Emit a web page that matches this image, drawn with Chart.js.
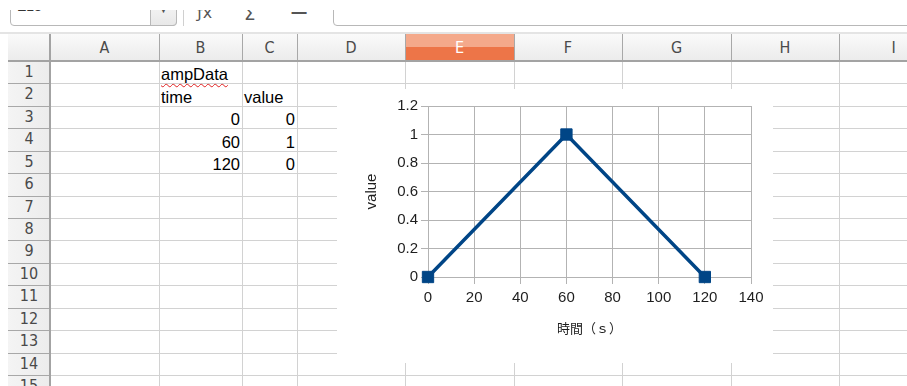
<!DOCTYPE html>
<html>
<head>
<meta charset="utf-8">
<script src="https://cdn.jsdelivr.net/npm/chart.js@4"></script>
<style>
  body { margin: 0; background: #fff; }
  #sheet { position: relative; width: 907px; height: 386px; overflow: hidden; background: #fff;
           font-family: "Liberation Sans", Arial, sans-serif; }
  #sheet div { position: absolute; box-sizing: border-box; }
  .hdr { font-family: "Liberation Sans Narrow", "DejaVu Sans Condensed", sans-serif; font-size: 16px;
         color: #4a4a4a; text-align: center; }
  .cell { font-size: 16.5px; color: #000; height: 20px; line-height: 20px; white-space: nowrap; }
  #chartBox { background: #fff; }
</style>
</head>
<body>
<div id="sheet"></div>
<script>
// data
const sheetTitle = 'ampData';
const colTitles = ['time', 'value'];
const timeValues = [0, 60, 120];
const ampValues = [0, 1, 0];
const xTickLabels = ['0', '20', '40', '60', '80', '100', '120', '140'];
const yTickLabels = ['0', '0.2', '0.4', '0.6', '0.8', '1', '1.2'];
const xTitle = '時間（ｓ）';
const yTitle = 'value';
const colNames = ['A', 'B', 'C', 'D', 'E', 'F', 'G', 'H', 'I'];

// sheet layout
const colEdges = [50, 159, 242, 297, 405, 514, 622, 731, 839, 948];
const rowH = 22.43;
const rowTop = i => 61 + i * rowH;
const sheet = document.getElementById('sheet');

function box(x, y, w, h, css, text, cls) {
  const d = document.createElement('div');
  d.style.left = x + 'px'; d.style.top = y + 'px';
  d.style.width = w + 'px'; d.style.height = h + 'px';
  if (css) d.style.cssText += css;
  if (cls) d.className = cls;
  if (text !== undefined) d.textContent = text;
  sheet.appendChild(d);
  return d;
}

// toolbar
box(10, -6, 167, 32, 'border:1px solid #b8b8b8;border-radius:4px;background:#fff;');
box(17, -2, 60, 20, 'font-size:14px;color:#333;', 'E18');
box(150, -6, 27, 32, 'border:1px solid #b8b8b8;border-radius:0 4px 4px 0;background:linear-gradient(#fafafa,#e8e8e8);');
box(150, 3, 27, 14, 'font-size:9px;color:#555;text-align:center;line-height:14px;', '▼');
box(183, 9, 1, 17, 'background:#d0d0d0;');
box(197, 3, 30, 24, 'font-size:16px;color:#555;font-family:"DejaVu Sans";', 'ƒx');
box(244, 3, 26, 24, 'font-size:18px;color:#555;font-family:"DejaVu Sans";', 'Σ');
box(289, -4, 20, 24, 'font-size:24px;color:#555;font-family:"DejaVu Sans";', '=');
box(333, -6, 620, 32, 'border:1px solid #b8b8b8;border-radius:4px;background:#fff;');
box(0, 0, 907, 10, 'background:#fff;');
box(0, 32, 907, 2, 'background:#e4e4e4;');

// headers
box(8, 34, 899, 27, 'background:linear-gradient(#fafafa,#ebebeb);');
box(8, 61, 42, 330, 'background:linear-gradient(90deg,#f4f4f4,#ececec);');
box(colEdges[4] + 1, 34, colEdges[5] - colEdges[4] - 1, 14, 'background:#f4a98b;');
box(colEdges[4] + 1, 47, colEdges[5] - colEdges[4] - 1, 14, 'background:#ed7548;');
for (let c = 0; c < colNames.length; c++) {
  const x0 = colEdges[c], x1 = colEdges[c + 1];
  const col = c === 4 ? 'color:#fff;' : '';
  box(x0, 36, x1 - x0, 24, 'line-height:24px;' + col, colNames[c], 'hdr');
  box(x1, 34, 1, 27, 'background:#a8a8a8;');
}
for (let r = 0; r < 15; r++) {
  box(8, rowTop(r), 42, rowH, 'line-height:' + rowH + 'px;', String(r + 1), 'hdr');
  box(8, Math.round(rowTop(r + 1)), 42, 1, 'background:#a8a8a8;');
}
box(8, 60, 899, 2, 'background:#a3a3a3;');
box(49, 34, 2, 360, 'background:#a3a3a3;');

// cell grid
for (let r = 1; r <= 15; r++) box(51, Math.round(rowTop(r)), 860, 1, 'background:#d2d2d2;');
for (let c = 1; c < colEdges.length; c++) box(colEdges[c], 62, 1, 330, 'background:#d2d2d2;');

// cell contents
function cell(c, r, text, right) {
  const y = rowTop(r + 1) - 19;
  if (right) return box(colEdges[c], y, colEdges[c + 1] - colEdges[c] - 2, 20, 'text-align:right;', text, 'cell');
  return box(colEdges[c] + 2, y, 120, 20, '', text, 'cell');
}
cell(1, 0, sheetTitle).style.cssText += 'text-decoration:underline wavy #e02020;text-decoration-thickness:1px;text-underline-offset:3px;';
cell(1, 1, colTitles[0]);
cell(2, 1, colTitles[1]);
timeValues.forEach((t, i) => {
  cell(1, 2 + i, String(t), true);
  cell(2, 2 + i, String(ampValues[i]), true);
});

// chart object
const chartBox = box(337, 89, 436, 274, '', undefined);
chartBox.id = 'chartBox';
const canvas = document.createElement('canvas');
canvas.id = 'myChart';
canvas.width = 436; canvas.height = 274;
chartBox.appendChild(canvas);

const ctx = canvas.getContext('2d');
const tickFont = { family: 'Liberation Sans', size: 15 };

new Chart(ctx, {
  type: 'scatter',
  data: {
    datasets: [{
      data: timeValues.map((t, i) => ({ x: t, y: ampValues[i] })),
      showLine: true,
      borderColor: '#004586',
      backgroundColor: '#004586',
      borderWidth: 3.5,
      pointStyle: 'rect',
      pointRadius: 8,
      pointBorderWidth: 1,
      pointBorderColor: '#004586',
      clip: false
    }]
  },
  options: {
    responsive: false,
    animation: false,
    layout: { padding: { top: 17, right: 22, bottom: 0, left: 0 } },
    plugins: { legend: { display: false }, tooltip: { enabled: false } },
    scales: {
      x: {
        type: 'linear', min: 0, max: 140,
        ticks: { stepSize: 20, padding: 5, color: '#1e1e1e', font: tickFont,
                 callback: (v, i) => xTickLabels[i] },
        grid: { color: '#b3b3b3', tickLength: 7 },
        border: { color: '#b3b3b3' },
        title: { display: true, text: xTitle, color: '#1e1e1e',
                 font: { family: 'Noto Sans CJK JP', size: 13 }, padding: { top: 0, bottom: 27 } },
        afterFit: s => { s.height = 86; }
      },
      y: {
        min: 0, max: 1.2,
        ticks: { stepSize: 0.2, padding: 3, color: '#1e1e1e', font: tickFont,
                 callback: (v, i) => yTickLabels[i] },
        grid: { color: '#b3b3b3', tickLength: 7 },
        border: { color: '#b3b3b3' },
        title: { display: true, text: yTitle, color: '#1e1e1e', font: tickFont,
                 padding: { top: 26, bottom: 0 } },
        afterFit: s => { s.width = 91; }
      }
    }
  }
});
</script>
</body>
</html>
